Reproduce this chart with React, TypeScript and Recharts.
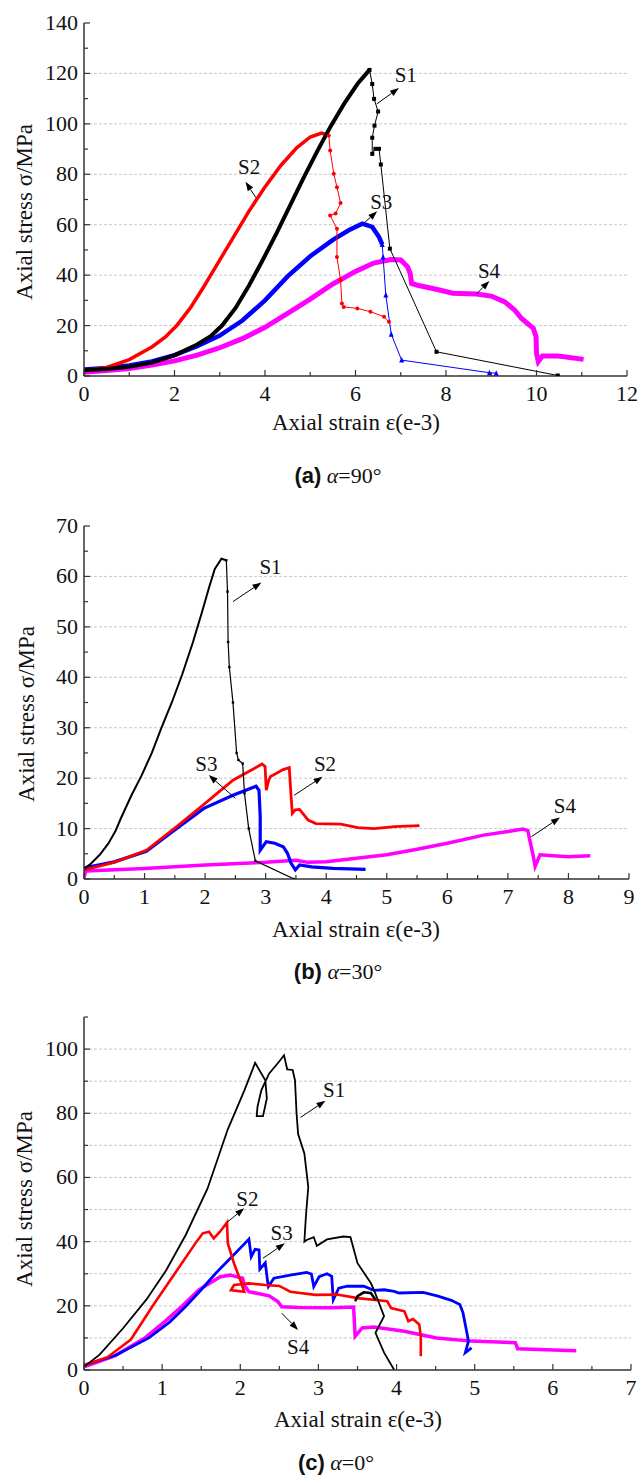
import React from "react";
import {
  LineChart,
  Line,
  XAxis,
  YAxis,
  ReferenceLine,
  ReferenceDot,
} from "recharts";

type Pt = [number, number];

const FONT = '"Liberation Serif", "Times New Roman", serif';

// ---------- (a) alpha = 90° ----------
const a90_S1_rise: Pt[] = [
  [0, 2.3], [0.5, 2.8], [1, 3.7], [1.5, 5.3], [2, 8.2], [2.5, 12.5], [2.8, 15.8],
  [3.05, 20], [3.35, 27], [3.65, 36], [3.95, 46], [4.25, 56.5], [4.55, 67.5],
  [4.85, 78.5], [5.15, 89], [5.45, 99], [5.75, 108], [6.05, 116], [6.31, 121.4],
];
const a90_S1_fail: Pt[] = [
  [6.31, 121.4], [6.37, 115.8], [6.41, 109.9], [6.5, 104.9], [6.42, 99.3], [6.37, 94.5],
  [6.37, 88.1], [6.44, 90.1], [6.52, 90.1], [6.56, 83.9], [6.76, 50.5], [7.79, 9.6], [10.47, 0.2],
];
const a90_S2_rise: Pt[] = [
  [0, 2], [0.5, 3.4], [1, 6.5], [1.5, 11.5], [1.8, 15.5], [2.05, 20], [2.35, 27],
  [2.65, 35.5], [2.95, 44.5], [3.3, 55], [3.65, 65.5], [4.0, 75], [4.35, 83.5],
  [4.7, 90.5], [5.0, 94.8], [5.25, 96.3], [5.41, 95.4],
];
const a90_S2_fail: Pt[] = [
  [5.41, 95.4], [5.44, 89.4], [5.52, 80.2], [5.59, 74.9], [5.67, 68.6], [5.56, 64.4],
  [5.44, 63.7], [5.59, 58.4], [5.59, 47.2], [5.67, 38], [5.7, 28.8], [5.74, 27.4],
  [6.04, 26.8], [6.33, 25.5], [6.63, 23.5], [6.74, 21.5],
];
const a90_S3_rise: Pt[] = [
  [0, 2.6], [0.5, 3.2], [1, 4.2], [1.5, 5.8], [2, 8.3], [2.5, 11.8], [3, 16], [3.5, 22],
  [4, 30], [4.5, 39.5], [5, 47.5], [5.5, 54], [5.85, 57.8], [6.15, 60.4], [6.37, 59.1],
  [6.52, 55.1], [6.59, 52.2],
];
const a90_S3_fail: Pt[] = [
  [6.59, 52.2], [6.61, 47.2], [6.67, 32.1], [6.79, 16.6], [7.02, 6.3], [8.96, 1.3], [9.11, 1.1],
];
const a90_S4: Pt[] = [
  [0, 1.5], [0.5, 2.2], [1, 3], [1.5, 4.3], [2, 6], [2.5, 8.3], [3, 11.2], [3.5, 14.8],
  [4, 19.3], [4.5, 24.8], [5, 30.5], [5.5, 36.5], [6, 41.5], [6.4, 44.8], [6.78, 46.2],
  [7.0, 46], [7.15, 43.3], [7.21, 40.6], [7.24, 36.7], [7.37, 36], [7.81, 34.3],
  [8.15, 32.8], [8.67, 32.5], [9.0, 31.7], [9.3, 29.4], [9.52, 26.1], [9.67, 22.8],
  [9.93, 18.9], [9.99, 15.6], [10.0, 9], [10.04, 5.7], [10.13, 7.9], [10.48, 7.9], [11.04, 6.6],
];
const a90_labels: [string, number, number][] = [
  ["S1", 7.11, 119.5], ["S2", 3.65, 83], ["S3", 6.57, 69], ["S4", 8.95, 41.7],
];
const a90_arrows: [number, number, number, number][] = [
  [6.47, 107.9, 6.96, 114.2], [3.8, 70.7, 3.57, 77], [6.19, 60.7, 6.48, 65.3], [8.67, 32.5, 8.96, 37.7],
];

// ---------- (b) alpha = 30° ----------
const a30_S1_rise: Pt[] = [
  [0, 2], [0.1, 2.9], [0.26, 4.8], [0.4, 7], [0.52, 9.5], [0.6, 11.8], [0.78, 16.5],
  [0.95, 20.5], [1.12, 25], [1.28, 30], [1.45, 35], [1.62, 40.5], [1.8, 47], [1.95, 53],
  [2.07, 58], [2.16, 61.5], [2.27, 63.5], [2.35, 63.2],
];
const a30_S1_fail: Pt[] = [
  [2.35, 63.2], [2.37, 57], [2.38, 47], [2.4, 42], [2.46, 35], [2.52, 25], [2.55, 23.6],
  [2.62, 22.9], [2.65, 17], [2.72, 10], [2.83, 3.6], [3.47, 0],
];
const a30_S2: Pt[] = [
  [0, 1.8], [0.5, 3.3], [1.03, 5.7], [1.51, 10.2], [1.98, 14.8], [2.46, 19.6], [2.81, 21.9],
  [2.94, 22.8], [2.99, 22.3], [3.01, 17.6], [3.05, 19.6], [3.08, 20.3], [3.29, 21.7],
  [3.39, 22.1], [3.42, 16.3], [3.44, 13], [3.49, 13.7], [3.56, 13.8], [3.7, 11.7], [3.83, 11],
  [4.24, 10.9], [4.52, 10.2], [4.79, 10], [5.13, 10.4], [5.54, 10.6],
];
const a30_S3: Pt[] = [
  [0, 2.2], [0.5, 3.4], [1.03, 5.5], [1.51, 9.8], [1.98, 14], [2.46, 16.6], [2.84, 18.4],
  [2.89, 17.6], [2.91, 12.4], [2.91, 5.7], [3.01, 7.4], [3.15, 7.1], [3.29, 6.4], [3.36, 5.1],
  [3.42, 3.1], [3.49, 1.8], [3.56, 2.8], [3.76, 2.4], [4.11, 2.1], [4.65, 1.9],
];
const a30_S4: Pt[] = [
  [0, 0.3], [0.03, 1.6], [1, 2.1], [2, 2.8], [3, 3.3], [3.5, 3.7], [3.7, 3.3], [4, 3.4],
  [4.5, 4.1], [5, 4.8], [5.5, 5.9], [6, 7.1], [6.6, 8.7], [7, 9.4], [7.25, 9.9], [7.33, 9.6],
  [7.36, 7.8], [7.42, 4.5], [7.45, 2.5], [7.53, 4.8], [7.75, 4.6], [8, 4.4], [8.36, 4.6],
];
const a30_labels: [string, number, number][] = [
  ["S1", 3.08, 61.8], ["S3", 2.02, 22.9], ["S2", 3.98, 22.8], ["S4", 7.94, 14.5],
];
const a30_arrows: [number, number, number, number][] = [
  [2.46, 55, 2.93, 58.8], [2.5, 16, 2.06, 20.6], [3.47, 16.6, 3.94, 20.3], [7.39, 8.4, 7.86, 12.2],
];

// ---------- (c) alpha = 0° ----------
const a0_S1: Pt[] = [
  [0, 1], [0.2, 4.8], [0.5, 13], [0.8, 22], [1.05, 31], [1.3, 42], [1.58, 56.5], [1.84, 75],
  [2.05, 87], [2.19, 95.7], [2.32, 90.3], [2.34, 84.6], [2.29, 79.1], [2.21, 79.1], [2.22, 82],
  [2.27, 87.2], [2.37, 92.4], [2.48, 95.6], [2.56, 98.1], [2.6, 93.7], [2.67, 93.5], [2.7, 90.3],
  [2.72, 80], [2.74, 73.5], [2.82, 67.5], [2.87, 57], [2.84, 48], [2.82, 40], [2.85, 40.5],
  [2.94, 41.4], [2.98, 38.7], [3.11, 40.7], [3.32, 41.6], [3.41, 41.4], [3.5, 33.3],
  [3.67, 27.1], [3.71, 25], [3.84, 16.8], [3.73, 11.6], [3.84, 5.4], [3.97, 0],
];
const a0_S1_hump: Pt[] = [[3.47, 21.4], [3.5, 23], [3.58, 24.2], [3.67, 24], [3.73, 21.9]];
const a0_S2: Pt[] = [
  [0, 1.5], [0.3, 4], [0.6, 9.5], [0.88, 20], [1.16, 30], [1.44, 40], [1.52, 42.6], [1.6, 43.1],
  [1.66, 41], [1.74, 43.1], [1.83, 46], [1.84, 39.5], [1.92, 33.2], [2.0, 28], [2.05, 24.4],
  [1.88, 24.9], [1.92, 26.5], [2.11, 27], [2.32, 26.5], [2.5, 26.2], [2.64, 24.4], [2.96, 23.4],
  [3.24, 23.5], [3.5, 22.4], [3.88, 21.4], [3.93, 19.3], [4.1, 18.3], [4.15, 15.2], [4.21, 15.9],
  [4.29, 14.2], [4.31, 10.5], [4.31, 4.3],
];
const a0_S3: Pt[] = [
  [0, 1.5], [0.4, 4.5], [0.83, 10], [1.1, 15], [1.31, 20], [1.5, 25], [1.68, 30], [1.88, 35],
  [2.08, 40], [2.11, 40.8], [2.14, 35.3], [2.19, 37.6], [2.24, 37.4], [2.25, 31.4], [2.32, 33.4],
  [2.35, 27.5], [2.36, 26], [2.43, 28.6], [2.64, 29.6], [2.85, 30.4], [2.91, 29.9], [2.94, 26],
  [3.01, 29.1], [3.11, 30], [3.17, 29.2], [3.19, 21.9], [3.26, 25.5], [3.37, 26.1], [3.58, 26.1],
  [3.71, 24.8], [3.84, 25], [3.97, 24.5], [4.03, 24], [4.34, 24.2], [4.53, 23], [4.7, 21.7],
  [4.81, 20.4], [4.85, 17.8], [4.9, 11.6], [4.92, 9], [4.88, 5.4], [4.96, 6.9],
];
const a0_S4: Pt[] = [
  [0, 1], [0.4, 4.5], [0.78, 10], [1.03, 15], [1.26, 20], [1.47, 25], [1.74, 29], [1.87, 29.6],
  [1.95, 29.1], [2.03, 28.6], [2.05, 26.5], [2.11, 24.4], [2.21, 23.9], [2.37, 23.1], [2.48, 21.3],
  [2.53, 19.7], [2.74, 19.5], [3.17, 19.4], [3.45, 19.6], [3.47, 10.5], [3.56, 13.1], [3.71, 13.4],
  [4.1, 12.1], [4.51, 10], [4.96, 9], [5.52, 8.5], [5.55, 6.6], [5.82, 6.4], [6.3, 6.0],
];
const a0_labels: [string, number, number][] = [
  ["S1", 3.2, 87.2], ["S2", 2.09, 53.3], ["S3", 2.53, 42.8], ["S4", 2.74, 7.1],
];
const a0_arrows: [number, number, number, number][] = [
  [2.77, 78.7, 3.09, 83.9], [1.83, 46, 2.05, 50.4], [2.29, 34.8, 2.57, 39.5], [2.53, 17.7, 2.74, 12.5],
];

// tick positions
const a90_xTicks = [0, 1, 2, 3, 4, 5, 6, 7, 8, 9, 10, 11, 12];
const a90_yTicks = [0, 10, 20, 30, 40, 50, 60, 70, 80, 90, 100, 110, 120, 130, 140];
const a30_xTicks = [0, 0.5, 1, 1.5, 2, 2.5, 3, 3.5, 4, 4.5, 5, 5.5, 6, 6.5, 7, 7.5, 8, 8.5, 9];
const a30_yTicks = [0, 5, 10, 15, 20, 25, 30, 35, 40, 45, 50, 55, 60, 65, 70];
const a0_xTicks = [0, 0.5, 1, 1.5, 2, 2.5, 3, 3.5, 4, 4.5, 5, 5.5, 6, 6.5, 7];
const a0_yTicks = [0, 10, 20, 30, 40, 50, 60, 70, 80, 90, 100, 110];

const C = { S1: "#000000", S2: "#ff0000", S3: "#0000ff", S4: "#ff00ff" };

const rows = (pts: Pt[]) => pts.map(([x, y]) => ({ x, y }));

const TM = 8;
const isMajor = (v: number, step: number) => Math.abs(v / step - Math.round(v / step)) < 1e-6;

const bottomTick = (step: number) => (p: any) => {
  const { x, y, payload } = p;
  const ay = y - TM;
  const major = isMajor(payload.value, step);
  return (
    <g>
      <line x1={x} y1={ay} x2={x} y2={ay - (major ? 6 : 4)} stroke="#333" strokeWidth={1.2} />
      {major && (
        <text x={x} y={ay + 25} textAnchor="middle" fontSize={22} fontFamily={FONT} fill="#111">
          {payload.value}
        </text>
      )}
    </g>
  );
};
const leftTick = (step: number) => (p: any) => {
  const { x, y, payload } = p;
  const ax = x + TM;
  const major = isMajor(payload.value, step);
  return (
    <g>
      <line x1={ax} y1={y} x2={ax + (major ? 6 : 4)} y2={y} stroke="#333" strokeWidth={1.2} />
      {major && (
        <text x={ax - 6} y={y + 7} textAnchor="end" fontSize={22} fontFamily={FONT} fill="#111">
          {payload.value}
        </text>
      )}
    </g>
  );
};
const topTick = (step: number) => (p: any) => {
  const { x, y, payload } = p;
  const ay = y + TM;
  const major = isMajor(payload.value, step);
  return <line x1={x} y1={ay} x2={x} y2={ay + (major ? 5 : 3)} stroke="#888" strokeWidth={1} />;
};
const rightTick = (step: number) => (p: any) => {
  const { x, y, payload } = p;
  const ax = x - TM;
  const major = isMajor(payload.value, step);
  return <line x1={ax} y1={y} x2={ax - (major ? 5 : 3)} y2={y} stroke="#888" strokeWidth={1} />;
};

const marker = (kind: string, color: string, s = 2.2) => (p: any) => {
  const { cx, cy, key } = p;
  if (cx == null || cy == null) return <g key={key} />;
  if (kind === "square")
    return <rect key={key} x={cx - s} y={cy - s} width={2 * s} height={2 * s} fill={color} />;
  if (kind === "circle") return <circle key={key} cx={cx} cy={cy} r={s} fill={color} />;
  if (kind === "up")
    return <polygon key={key} points={`${cx},${cy - s - 0.5} ${cx - s},${cy + s} ${cx + s},${cy + s}`} fill={color} />;
  return <polygon key={key} points={`${cx},${cy + s + 0.5} ${cx - s},${cy - s} ${cx + s},${cy - s}`} fill={color} />;
};

const Arrow = (p: any) => {
  const { x1, y1, x2, y2 } = p;
  const ang = Math.atan2(y2 - y1, x2 - x1);
  const L = 9;
  const W = 3.2;
  const bx = x2 - L * Math.cos(ang);
  const by = y2 - L * Math.sin(ang);
  const px = -Math.sin(ang) * W;
  const py = Math.cos(ang) * W;
  return (
    <g>
      <line x1={x1} y1={y1} x2={bx} y2={by} stroke="#000" strokeWidth={1} />
      <polygon points={`${x2},${y2} ${bx + px},${by + py} ${bx - px},${by - py}`} fill="#000" />
    </g>
  );
};

interface SeriesCfg {
  pts: Pt[];
  color: string;
  width: number;
  marker?: string;
  ms?: number;
}

interface PanelCfg {
  top: number;
  height: number;
  mTop: number;
  mRight: number;
  xDomain: [number, number];
  yDomain: [number, number];
  xTicks: number[];
  yTicks: number[];
  xStep: number;
  yStep: number;
  grid: number[];
  series: SeriesCfg[];
  labels: [string, number, number][];
  arrows: [number, number, number, number][];
}

function Panel({ cfg }: { cfg: PanelCfg }) {
  return (
    <div style={{ position: "absolute", left: 0, top: cfg.top }}>
      <LineChart
        width={643}
        height={cfg.height}
        margin={{ top: cfg.mTop, right: cfg.mRight, bottom: 0, left: 0 }}
      >
        <XAxis
          dataKey="x"
          type="number"
          domain={cfg.xDomain}
          ticks={cfg.xTicks}
          interval={0}
          allowDataOverflow
          height={34}
          tickSize={0}
          tickMargin={TM}
          tickLine={false}
          axisLine={{ stroke: "#333", strokeWidth: 1.5 }}
          tick={bottomTick(cfg.xStep)}
        />
        <XAxis
          xAxisId="top"
          orientation="top"
          dataKey="x"
          type="number"
          domain={cfg.xDomain}
          ticks={cfg.xTicks}
          interval={0}
          allowDataOverflow
          height={0}
          tickSize={0}
          tickMargin={TM}
          tickLine={false}
          axisLine={{ stroke: "#999", strokeWidth: 1 }}
          tick={topTick(cfg.xStep)}
        />
        <YAxis
          type="number"
          domain={cfg.yDomain}
          ticks={cfg.yTicks}
          interval={0}
          allowDataOverflow
          width={84}
          tickSize={0}
          tickMargin={TM}
          tickLine={false}
          axisLine={{ stroke: "#333", strokeWidth: 1.5 }}
          tick={leftTick(cfg.yStep)}
        />
        <YAxis
          yAxisId="right"
          orientation="right"
          type="number"
          domain={cfg.yDomain}
          ticks={cfg.yTicks}
          interval={0}
          allowDataOverflow
          width={0}
          tickSize={0}
          tickMargin={TM}
          tickLine={false}
          axisLine={{ stroke: "#999", strokeWidth: 1 }}
          tick={rightTick(cfg.yStep)}
        />
        {cfg.grid.map((v) => (
          <ReferenceLine key={"g" + v} y={v} stroke="#c8c8c8" strokeDasharray="3 2" strokeWidth={1} />
        ))}
        {cfg.series.map((s, i) => (
          <Line
            key={i}
            data={rows(s.pts)}
            dataKey="y"
            type="linear"
            stroke={s.color}
            strokeWidth={s.width}
            dot={s.marker ? marker(s.marker, s.color, s.ms) : false}
            activeDot={false}
            isAnimationActive={false}
          />
        ))}
        {cfg.arrows.map((a, i) => (
          <ReferenceLine
            key={"ar" + i}
            segment={[
              { x: a[0], y: a[1] },
              { x: a[2], y: a[3] },
            ]}
            ifOverflow="visible"
            shape={Arrow}
          />
        ))}
        {cfg.labels.map(([t, x, y]) => (
          <ReferenceDot
            key={t}
            x={x}
            y={y}
            r={1}
            ifOverflow="visible"
            shape={(p: any) => (
              <text x={p.cx} y={p.cy + 7} textAnchor="middle" fontSize={21} fontFamily={FONT} fill="#111">
                {t}
              </text>
            )}
          />
        ))}
      </LineChart>
    </div>
  );
}

const panelA: PanelCfg = {
  top: 0, height: 410, mTop: 23, mRight: 16,
  xDomain: [0, 12], yDomain: [0, 140], xTicks: a90_xTicks, yTicks: a90_yTicks, xStep: 2, yStep: 20,
  grid: [20, 40, 60, 80, 100, 120],
  series: [
    { pts: a90_S4, color: C.S4, width: 5 },
    { pts: a90_S3_rise, color: C.S3, width: 4.5 },
    { pts: a90_S3_fail, color: C.S3, width: 1, marker: "up", ms: 2.5 },
    { pts: a90_S2_rise, color: C.S2, width: 3.5 },
    { pts: a90_S2_fail, color: C.S2, width: 1, marker: "circle", ms: 2 },
    { pts: a90_S1_rise, color: C.S1, width: 4 },
    { pts: a90_S1_fail, color: C.S1, width: 1, marker: "square", ms: 2 },
  ],
  labels: a90_labels, arrows: a90_arrows,
};

const panelB: PanelCfg = {
  top: 490, height: 423, mTop: 36, mRight: 14,
  xDomain: [0, 9], yDomain: [0, 70], xTicks: a30_xTicks, yTicks: a30_yTicks, xStep: 1, yStep: 10,
  grid: [10, 20, 30, 40, 50, 60],
  series: [
    { pts: a30_S4, color: C.S4, width: 3.5 },
    { pts: a30_S3, color: C.S3, width: 3.2 },
    { pts: a30_S2, color: C.S2, width: 2.8 },
    { pts: a30_S1_rise, color: C.S1, width: 2 },
    { pts: a30_S1_fail, color: C.S1, width: 1.2, marker: "square", ms: 1.2 },
  ],
  labels: a30_labels, arrows: a30_arrows,
};

const panelC: PanelCfg = {
  top: 980, height: 424, mTop: 37, mRight: 12,
  xDomain: [0, 7], yDomain: [0, 110], xTicks: a0_xTicks, yTicks: a0_yTicks, xStep: 1, yStep: 20,
  grid: [10, 20, 30, 40, 50, 60, 70, 80, 90, 100],
  series: [
    { pts: a0_S4, color: C.S4, width: 3.5 },
    { pts: a0_S3, color: C.S3, width: 2.8 },
    { pts: a0_S2, color: C.S2, width: 2.6 },
    { pts: a0_S1, color: C.S1, width: 1.8 },
    { pts: a0_S1_hump, color: C.S1, width: 2.5 },
  ],
  labels: a0_labels, arrows: a0_arrows,
};

const abs = (left: number, top: number, extra: React.CSSProperties = {}): React.CSSProperties => ({
  position: "absolute",
  left,
  top,
  transform: "translate(-50%, -50%)",
  whiteSpace: "nowrap",
  fontFamily: FONT,
  color: "#111",
  ...extra,
});

function Titles({ xt, yt, cap, letter, angle }: { xt: [number, number]; yt: [number, number]; cap: [number, number]; letter: string; angle: string }) {
  return (
    <>
      <div style={abs(xt[0], xt[1], { fontSize: 23 })}>Axial strain ε(e-3)</div>
      <div style={abs(yt[0], yt[1], { fontSize: 23, transform: "translate(-50%, -50%) rotate(-90deg)" })}>
        Axial stress σ/MPa
      </div>
      <div style={abs(cap[0], cap[1], { fontSize: 22 })}>
        <span style={{ fontFamily: '"Liberation Sans", Arial, sans-serif', fontWeight: "bold" }}>({letter})</span>{" "}
        <i>α</i>={angle}°
      </div>
    </>
  );
}

export default function App() {
  return (
    <div
      style={{
        position: "absolute",
        left: 0,
        top: 0,
        width: 643,
        height: 1476,
        background: "#fff",
        overflow: "hidden",
      }}
    >
      <Panel cfg={panelA} />
      <Panel cfg={panelB} />
      <Panel cfg={panelC} />
      <Titles xt={[356, 423]} yt={[25, 212]} cap={[338, 476]} letter="a" angle="90" />
      <Titles xt={[356, 930]} yt={[27, 714]} cap={[338, 972]} letter="b" angle="30" />
      <Titles xt={[358, 1420]} yt={[25, 1199]} cap={[336, 1463]} letter="c" angle="0" />
    </div>
  );
}
